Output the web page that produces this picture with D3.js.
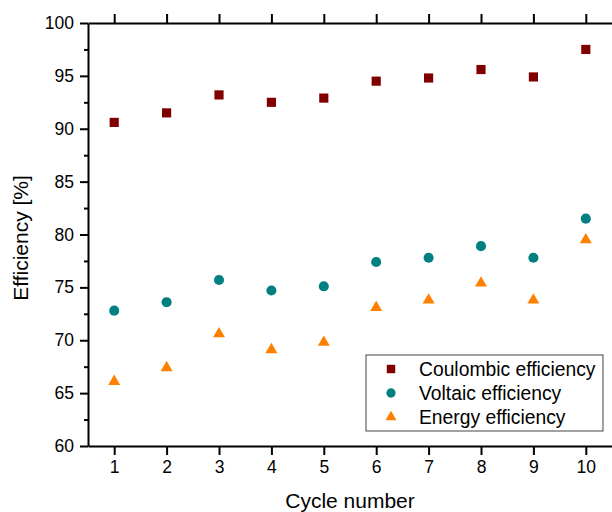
<!DOCTYPE html>
<html>
<head>
<meta charset="utf-8">
<script src="https://cdn.jsdelivr.net/npm/d3@7"></script>
<style>
  body { margin: 0; background: #fff; }
  text { font-family: Arial, "Liberation Sans", sans-serif; fill: #000; }
</style>
</head>
<body>
<div class="chart"></div>
<script>
(function chart() {

  'use strict';

  var cycles = [1, 2, 3, 4, 5, 6, 7, 8, 9, 10];
  var coulombic = [90.6, 91.5, 93.2, 92.5, 92.9, 94.5, 94.8, 95.6, 94.9, 97.5];
  var voltaic = [72.8, 73.6, 75.7, 74.7, 75.1, 77.4, 77.8, 78.9, 77.8, 81.5];
  var energy = [66.1, 67.4, 70.6, 69.1, 69.8, 73.1, 73.8, 75.4, 73.8, 79.5];
  var yTicks = [60, 65, 70, 75, 80, 85, 90, 95, 100];

  var series = [
    { name: 'Coulombic efficiency', values: coulombic, color: '#800000', shape: d3.symbolSquare, size: 84 },
    { name: 'Voltaic efficiency', values: voltaic, color: '#008080', shape: d3.symbolCircle, size: 80 },
    { name: 'Energy efficiency', values: energy, color: '#ff8000', shape: d3.symbolTriangle, size: 62 }
  ];

  var width = 612, height = 512;
  var margins = { top: 23, right: 0, bottom: 66, left: 88 };

  var svg = d3.select('.chart').append('svg')
    .attr('width', width)
    .attr('height', height);

  var x = d3.scaleLinear().domain([0.5, 10.5]).range([margins.left, width - margins.right]);
  var y = d3.scaleLinear().domain([60, 100]).range([height - margins.bottom, margins.top]);

  // minor ticks on y
  var yMinor = d3.range(62.5, 100, 5);

  var axisStyle = function (g) {
    g.select('.domain').attr('stroke', '#000').attr('stroke-width', 2);
    g.selectAll('.tick line').attr('stroke', '#000').attr('stroke-width', 2);
    g.selectAll('.tick text').style('font-size', '17.5px');
  };

  svg.append('g')
    .attr('transform', 'translate(0,' + y(60) + ')')
    .call(d3.axisBottom(x).tickValues(cycles).tickSize(9).tickPadding(6).tickSizeOuter(0))
    .call(axisStyle);

  svg.append('g')
    .attr('transform', 'translate(0,' + y(100) + ')')
    .call(d3.axisTop(x).tickValues(cycles).tickSize(9).tickFormat('').tickSizeOuter(0))
    .call(axisStyle);

  svg.append('g')
    .attr('transform', 'translate(' + x(0.5) + ',0)')
    .call(d3.axisLeft(y).tickValues(yTicks).tickSize(8).tickPadding(6).tickSizeOuter(0))
    .call(axisStyle);

  svg.append('g')
    .attr('transform', 'translate(' + x(0.5) + ',0)')
    .call(d3.axisLeft(y).tickValues(yMinor).tickSize(4).tickFormat('').tickSizeOuter(0))
    .call(axisStyle)
    .select('.domain').remove();

  // markers
  series.forEach(function (s) {
    svg.append('g').selectAll('path')
      .data(s.values)
      .enter()
      .append('path')
      .attr('d', d3.symbol().type(s.shape).size(s.size))
      .attr('fill', s.color)
      .attr('transform', function (d, i) {
        return 'translate(' + x(cycles[i]) + ',' + y(d) + ')';
      });
  });

  // legend
  var legend = svg.append('g').attr('transform', 'translate(366,355)');
  legend.append('rect')
    .attr('width', 237).attr('height', 76)
    .attr('fill', '#fff').attr('stroke', '#444').attr('stroke-width', 1);

  var items = legend.selectAll('.item')
    .data(series)
    .enter()
    .append('g')
    .attr('transform', function (d, i) { return 'translate(0,' + (14 + i * 24) + ')'; });

  items.append('path')
    .attr('transform', 'translate(25,0)')
    .attr('d', function (d) { return d3.symbol().type(d.shape).size(d.size * 0.85)(); })
    .attr('fill', function (d) { return d.color; });

  items.append('text')
    .attr('x', 53)
    .attr('y', 7)
    .style('font-size', '19.3px')
    .text(function (d) { return d.name; });

  // axis titles
  svg.append('text')
    .attr('x', 350)
    .attr('y', 508)
    .attr('text-anchor', 'middle')
    .style('font-size', '21px')
    .text('Cycle number');

  svg.append('text')
    .attr('transform', 'translate(28,238) rotate(-90)')
    .attr('text-anchor', 'middle')
    .style('font-size', '21px')
    .text('Efficiency [%]');
})();
</script>
</body>
</html>
